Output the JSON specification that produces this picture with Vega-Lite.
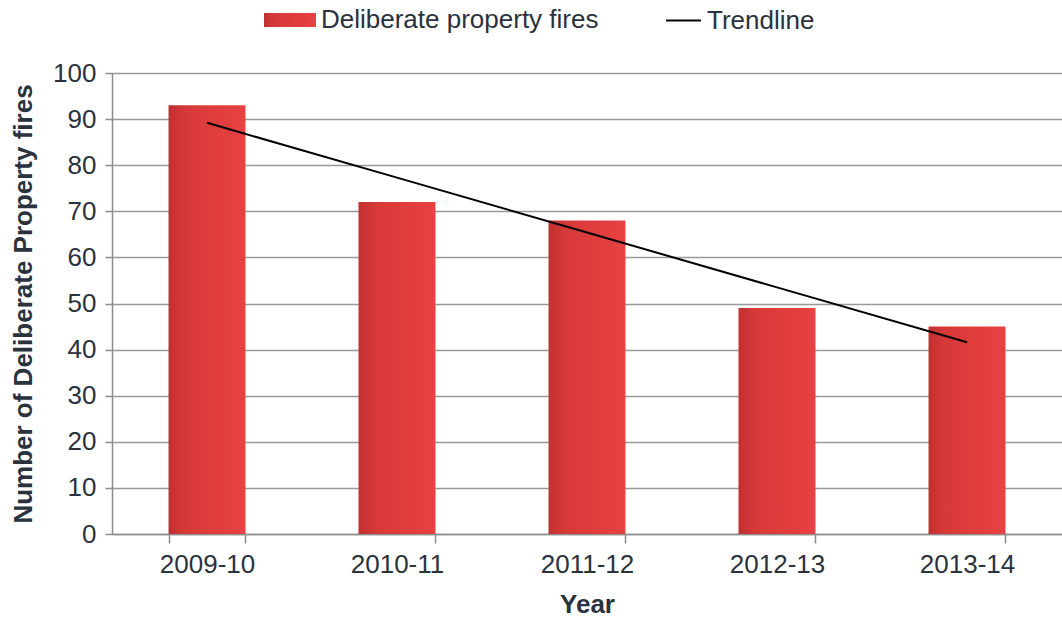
{
  "$schema": "https://vega.github.io/schema/vega-lite/v6.json",
  "width": 950,
  "height": 461,
  "autosize": "none",
  "padding": {"left": 112, "top": 73, "right": 0, "bottom": 85},
  "background": "white",
  "config": {
    "view": {"stroke": null},
    "font": "Liberation Sans",
    "axis": {"labelFont": "Liberation Sans", "titleFont": "Liberation Sans", "labelColor": "#2a323d", "titleColor": "#2a323d", "labelFontSize": 26, "titleFontSize": 26, "titleFontWeight": "bold"},
    "legend": {"labelFont": "Liberation Sans", "labelFontSize": 26, "labelColor": "#2a323d", "padding": 0, "offset": 0, "labelLimit": 500}
  },
  "data": {
    "values": [
      {"year": "2009-10", "fires": 93, "trend": 89.2},
      {"year": "2010-11", "fires": 72, "trend": 77.3},
      {"year": "2011-12", "fires": 68, "trend": 65.4},
      {"year": "2012-13", "fires": 49, "trend": 53.5},
      {"year": "2013-14", "fires": 45, "trend": 41.6}
    ]
  },
  "encoding": {
    "x": {
      "field": "year", "type": "nominal", "sort": null,
      "scale": {"paddingInner": 0.595, "paddingOuter": 0.2975},
      "axis": {"title": "Year", "labelAngle": 0, "tickBand": "extent", "domainColor": "#8c8c8c", "domainWidth": 1.5, "tickColor": "#8c8c8c", "tickWidth": 1.5, "tickSize": 9, "labelPadding": 8, "titlePadding": 14, "grid": false}
    }
  },
  "layer": [
    {
      "mark": {
        "type": "bar",
        "fill": {"gradient": "linear", "x1": 0, "y1": 0, "x2": 1, "y2": 0, "stops": [
          {"offset": 0, "color": "#C03030"},
          {"offset": 0.2, "color": "#D63838"},
          {"offset": 0.5, "color": "#DE3C3C"},
          {"offset": 1, "color": "#E84141"}
        ]}
      },
      "encoding": {
        "y": {
          "field": "fires", "type": "quantitative",
          "scale": {"domain": [0, 100]},
          "axis": {"title": "Number of Deliberate Property fires", "values": [0,10,20,30,40,50,60,70,80,90,100], "grid": true, "gridColor": "#999999", "gridWidth": 1.5, "domainColor": "#8c8c8c", "domainWidth": 1.5, "tickColor": "#8c8c8c", "tickWidth": 1.5, "tickSize": 7, "labelPadding": 9, "titlePadding": 16}
        },
        "opacity": {
          "datum": "Deliberate property fires", "type": "nominal",
          "scale": {"range": [1]},
          "legend": {"title": null, "orient": "none", "legendX": 152, "legendY": -79, "symbolType": "M-1,-0.27H1V0.27H-1Z", "symbolSize": 2704, "symbolFillColor": "#E03C3C", "symbolStrokeWidth": 0, "labelOffset": 5}
        }
      }
    },
    {
      "mark": {"type": "line", "color": "#000000", "strokeWidth": 2},
      "encoding": {
        "y": {"field": "trend", "type": "quantitative"},
        "stroke": {
          "datum": "Trendline", "type": "nominal",
          "scale": {"range": ["#000000"]},
          "legend": {"title": null, "orient": "none", "legendX": 553, "legendY": -71, "symbolType": "stroke", "symbolSize": 1225, "symbolStrokeWidth": 2, "labelOffset": 5}
        }
      }
    }
  ]
}
